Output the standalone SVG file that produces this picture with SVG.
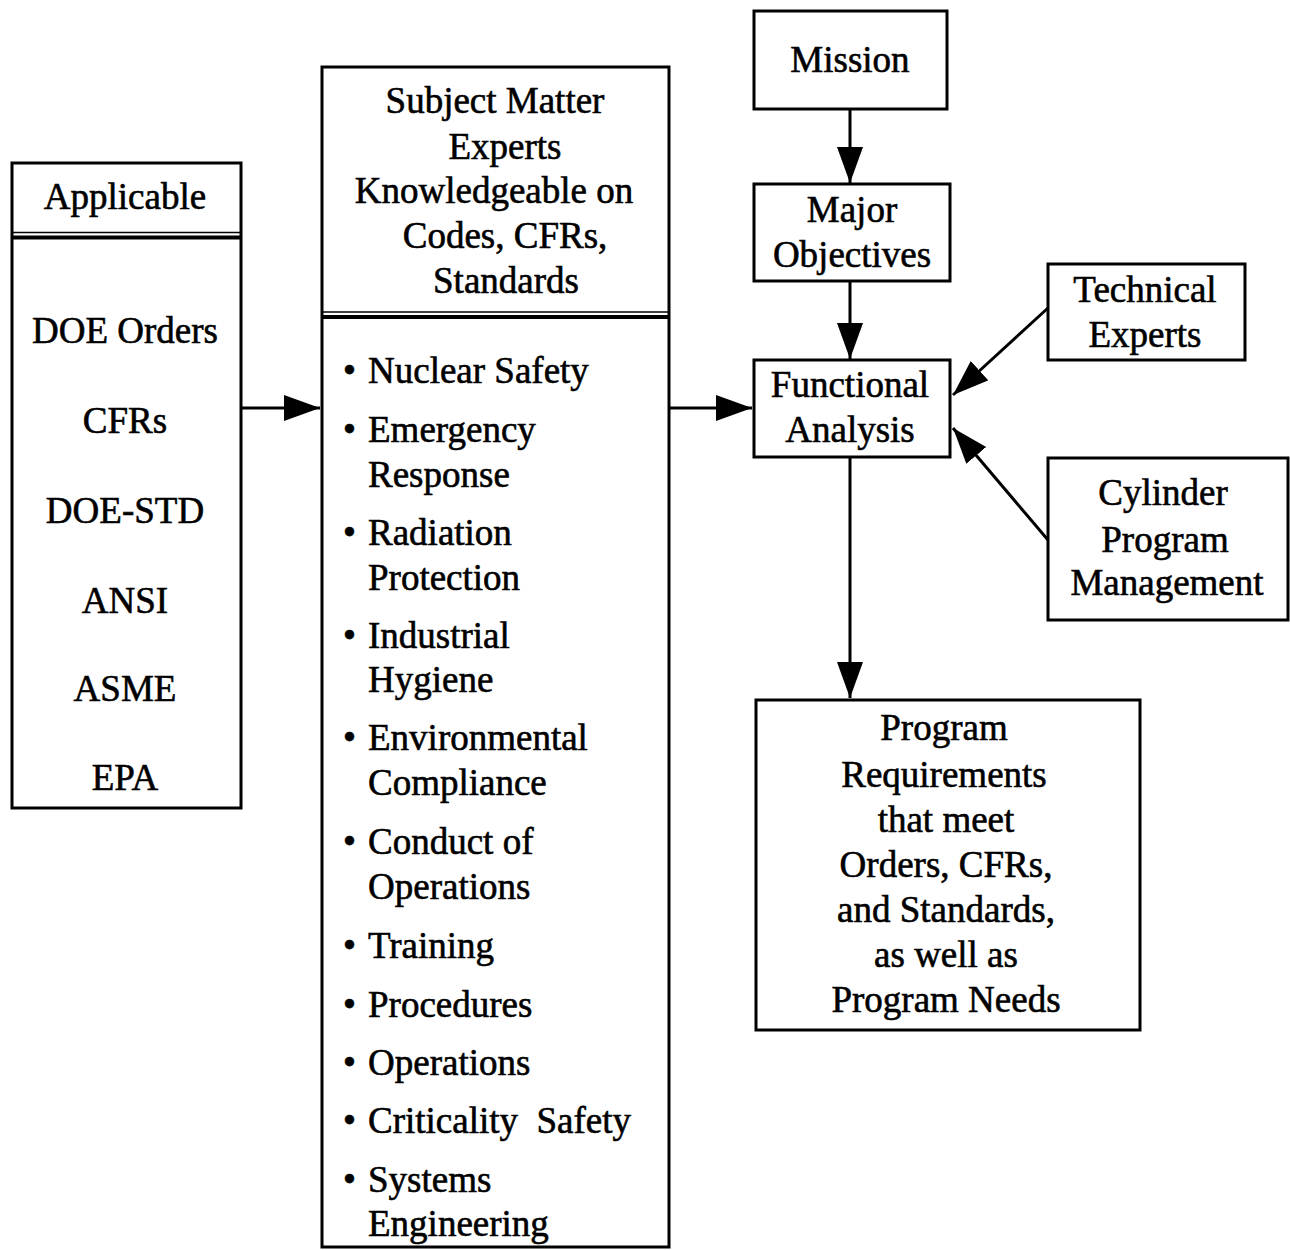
<svg xmlns="http://www.w3.org/2000/svg" width="1290" height="1250" viewBox="0 0 1290 1250">
<style>
.box{fill:#fff;stroke:#000;stroke-width:3}
.t{font-family:"Liberation Serif","Times New Roman",serif;font-size:37px;fill:#000;stroke:#000;stroke-width:0.6;white-space:pre}
.c{text-anchor:middle}
.conn{stroke:#000;stroke-width:3;fill:none}
</style>
<defs>
<marker id="ah" markerUnits="userSpaceOnUse" markerWidth="40" markerHeight="28" refX="36" refY="13" orient="auto">
<path d="M0,0 L36,13 L0,26 z" fill="#000"/>
</marker>
</defs>
<rect width="1290" height="1250" fill="#fff"/>

<g id="connectors">
<line class="conn" x1="850" y1="109" x2="850" y2="183" marker-end="url(#ah)"/>
<line class="conn" x1="850" y1="281" x2="850" y2="359" marker-end="url(#ah)"/>
<line class="conn" x1="850" y1="457" x2="850" y2="698" marker-end="url(#ah)"/>
<line class="conn" x1="241" y1="408" x2="320" y2="408" marker-end="url(#ah)"/>
<line class="conn" x1="669" y1="408" x2="752" y2="408" marker-end="url(#ah)"/>
<line class="conn" x1="1048" y1="308" x2="953" y2="395" marker-end="url(#ah)"/>
<line class="conn" x1="1048" y1="540" x2="953" y2="428" marker-end="url(#ah)"/>
</g>

<g id="applicable">
<rect class="box" x="12" y="163" width="229" height="645"/>
<line x1="12" y1="232.5" x2="241" y2="232.5" stroke="#000" stroke-width="1.5"/>
<line x1="12" y1="237.5" x2="241" y2="237.5" stroke="#000" stroke-width="4"/>
<text class="t c" x="125" y="209">Applicable</text>
<text class="t c" x="125" y="343">DOE Orders</text>
<text class="t c" x="125" y="433">CFRs</text>
<text class="t c" x="125" y="523">DOE-STD</text>
<text class="t c" x="125" y="613">ANSI</text>
<text class="t c" x="125" y="701">ASME</text>
<text class="t c" x="125" y="790">EPA</text>
</g>

<g id="sme">
<rect class="box" x="322" y="67" width="347" height="1180"/>
<line x1="322" y1="312" x2="669" y2="312" stroke="#000" stroke-width="1.5"/>
<line x1="322" y1="317" x2="669" y2="317" stroke="#000" stroke-width="4"/>
<text class="t c" x="495" y="113">Subject Matter</text>
<text class="t c" x="505" y="159">Experts</text>
<text class="t c" x="494" y="203">Knowledgeable on</text>
<text class="t c" x="505" y="248">Codes, CFRs,</text>
<text class="t c" x="506" y="293">Standards</text>
<g class="t">
<text x="343" y="383">•</text><text x="368" y="383">Nuclear Safety</text>
<text x="343" y="442">•</text><text x="368" y="442">Emergency</text>
<text x="368" y="487">Response</text>
<text x="343" y="545">•</text><text x="368" y="545">Radiation</text>
<text x="368" y="590">Protection</text>
<text x="343" y="648">•</text><text x="368" y="648">Industrial</text>
<text x="368" y="692">Hygiene</text>
<text x="343" y="750">•</text><text x="368" y="750">Environmental</text>
<text x="368" y="795">Compliance</text>
<text x="343" y="854">•</text><text x="368" y="854">Conduct of</text>
<text x="368" y="899">Operations</text>
<text x="343" y="958">•</text><text x="368" y="958">Training</text>
<text x="343" y="1017">•</text><text x="368" y="1017">Procedures</text>
<text x="343" y="1075">•</text><text x="368" y="1075">Operations</text>
<text x="343" y="1133">•</text><text x="368" y="1133" xml:space="preserve">Criticality  Safety</text>
<text x="343" y="1192">•</text><text x="368" y="1192">Systems</text>
<text x="368" y="1236">Engineering</text>
</g>
</g>

<g id="mission">
<rect class="box" x="754" y="11" width="193" height="98"/>
<text class="t c" x="850" y="72">Mission</text>
</g>

<g id="major-objectives">
<rect class="box" x="754" y="184" width="196" height="97"/>
<text class="t c" x="852" y="222">Major</text>
<text class="t c" x="852" y="267">Objectives</text>
</g>

<g id="functional-analysis">
<rect class="box" x="754" y="360" width="196" height="97"/>
<text class="t c" x="850" y="397">Functional</text>
<text class="t c" x="850" y="442">Analysis</text>
</g>

<g id="technical-experts">
<rect class="box" x="1048" y="264" width="197" height="96"/>
<text class="t c" x="1145" y="302">Technical</text>
<text class="t c" x="1145" y="347">Experts</text>
</g>

<g id="cylinder-program-management">
<rect class="box" x="1048" y="458" width="240" height="162"/>
<text class="t c" x="1163" y="505">Cylinder</text>
<text class="t c" x="1165" y="552">Program</text>
<text class="t c" x="1167" y="595">Management</text>
</g>

<g id="program-requirements">
<rect class="box" x="756" y="700" width="384" height="330"/>
<text class="t c" x="944" y="740">Program</text>
<text class="t c" x="944" y="787">Requirements</text>
<text class="t c" x="946" y="832">that meet</text>
<text class="t c" x="946" y="877">Orders, CFRs,</text>
<text class="t c" x="946" y="922">and Standards,</text>
<text class="t c" x="946" y="967">as well as</text>
<text class="t c" x="946" y="1012">Program Needs</text>
</g>
</svg>
